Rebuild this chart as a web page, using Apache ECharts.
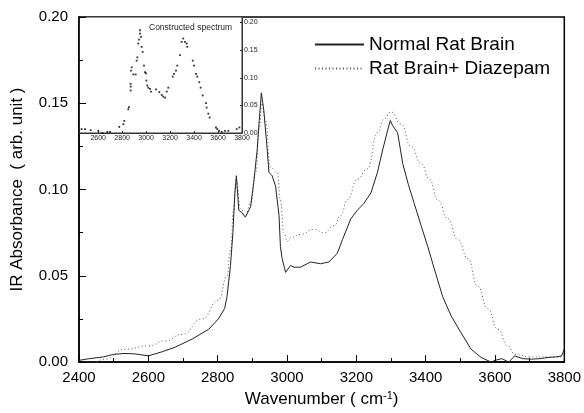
<!DOCTYPE html>
<html>
<head>
<meta charset="utf-8">
<script src="https://cdn.jsdelivr.net/npm/echarts@6/dist/echarts.min.js"></script>
<style>html,body{margin:0;padding:0;background:#fff;}#c{width:584px;height:413px;}</style>
</head>
<body>
<div id="c"></div>
<script>
// Main chart data: Normal Rat Brain (solid)
const normalX = [2400,2430,2470,2500,2530,2560,2600,2640,2678,2726,2774,2802,2820,2827,2837,2844,2849,2854,2861,2868,2880,2895,2904,2914,2920,2926,2933,2943,2948,2957,2967,2977,2981,2986,2996,3010,3020,3039,3068,3097,3121,3145,3160,3184,3203,3222,3242,3261,3276,3290,3298,3305,3319,3334,3350,3367,3387,3406,3425,3449,3473,3502,3531,3560,3589,3600,3620,3640,3657,3680,3705,3730,3753,3775,3792,3800];
const normalY = [0.001,0.002,0.003,0.0045,0.005,0.0048,0.0036,0.006,0.0087,0.0133,0.019,0.025,0.031,0.038,0.056,0.075,0.096,0.108,0.088,0.087,0.084,0.090,0.104,0.123,0.140,0.156,0.146,0.123,0.110,0.108,0.102,0.085,0.067,0.060,0.052,0.056,0.055,0.055,0.058,0.057,0.058,0.063,0.071,0.083,0.088,0.092,0.098,0.110,0.123,0.134,0.140,0.137,0.133,0.115,0.103,0.092,0.079,0.067,0.054,0.038,0.027,0.017,0.0075,0.0027,0.000,0.001,0.002,0.000,0.0036,0.002,0.0017,0.002,0.0027,0.003,0.0036,0.0075];
// Rat Brain + Diazepam (dotted)
const diazX = [2400,2440,2475,2533,2600,2649,2697,2755,2803,2827,2837,2846,2853,2866,2880,2895,2910,2920,2928,2938,2952,2972,2981,2991,3001,3010,3039,3078,3107,3136,3155,3174,3203,3232,3261,3280,3300,3329,3358,3387,3411,3435,3464,3493,3522,3550,3579,3608,3637,3657,3700,3750,3800];
const diazY = [0.000,0.000,0.0017,0.0075,0.0094,0.0123,0.016,0.025,0.036,0.050,0.065,0.088,0.106,0.089,0.085,0.092,0.110,0.135,0.150,0.140,0.113,0.110,0.094,0.075,0.070,0.072,0.074,0.077,0.075,0.079,0.085,0.094,0.106,0.112,0.133,0.141,0.145,0.138,0.125,0.115,0.106,0.094,0.083,0.071,0.060,0.044,0.031,0.019,0.0094,0.0046,0.003,0.003,0.003];
// Inset: constructed spectrum (dots)
const insetX = [2462,2490,2537,2601,2635,2676,2699,2776,2810,2818,2851,2857,2871,2871,2871,2874,2880,2893,2913,2921,2927,2935,2941,2949,2949,2957,2963,2971,2982,2991,2999,3002,3010,3018,3032,3041,3082,3110,3130,3143,3158,3172,3185,3222,3233,3249,3260,3283,3297,3310,3324,3339,3344,3389,3400,3416,3427,3444,3455,3472,3500,3505,3519,3530,3583,3594,3610,3631,3658,3686,3756,3778];
const insetY = [0.007,0.007,0.005,0.004,0.000,0.002,0.002,0.011,0.016,0.022,0.043,0.047,0.077,0.084,0.089,0.113,0.119,0.106,0.106,0.131,0.137,0.162,0.169,0.180,0.186,0.174,0.156,0.147,0.122,0.110,0.108,0.095,0.086,0.082,0.080,0.075,0.079,0.074,0.069,0.066,0.064,0.075,0.082,0.102,0.107,0.113,0.122,0.141,0.165,0.171,0.165,0.162,0.156,0.131,0.122,0.107,0.102,0.092,0.082,0.068,0.054,0.046,0.035,0.028,0.010,0.007,0.004,0.002,0.004,0.004,0.007,0.010];
const xTicks = [2400,2600,2800,3000,3200,3400,3600,3800];
const yTicks = [0,0.05,0.10,0.15,0.20];
const insetXTicks = [2600,2800,3000,3200,3400,3600,3800];
const insetYTicks = [0,0.05,0.10,0.15,0.20];

const zip = (a,b) => a.map((v,i)=>[v,b[i]]);
const FF = '"Liberation Sans", Arial, sans-serif';
const plain = v => String(Math.round(v));
const chart = echarts.init(document.getElementById('c'), null, {renderer:'canvas'});
chart.setOption({
  animation: false,
  backgroundColor: '#fff',
  textStyle: {fontFamily: FF},
  grid: [
    {left: 79, right: 19, top: 17, bottom: 50, show: true, borderColor: '#000', borderWidth: 1.5, backgroundColor: 'transparent'},
    {left: 79, top: 17, width: 163, height: 116, show: true, borderColor: '#333', borderWidth: 1, backgroundColor: '#fff'}
  ],
  legend: {
    left: 309, top: 30, orient: 'vertical', itemWidth: 49, itemHeight: 12, itemGap: 5,
    itemStyle: {opacity: 0},
    textStyle: {fontSize: 19, color: '#000', fontFamily: FF},
    data: ['Normal Rat Brain', 'Rat Brain+ Diazepam']
  },
  xAxis: [
    {type: 'value', gridIndex: 0, min: xTicks[0], max: xTicks[xTicks.length-1], interval: 200,
     name: 'Wavenumber ( cm{sup|-1})', nameLocation: 'middle', nameGap: 24,
     nameTextStyle: {fontSize: 17, color: '#000', fontFamily: FF, rich: {sup: {fontSize: 11, verticalAlign: 'top', padding: [0,0,8,0]}}},
     axisLine: {lineStyle: {color: '#000', width: 1.5}},
     axisTick: {inside: true, length: 7, lineStyle: {color: '#000'}},
     minorTick: {show: true, splitNumber: 2, length: 4, lineStyle: {color: '#000'}},
     splitLine: {show: false},
     axisLabel: {fontSize: 15, color: '#000', margin: 8, fontFamily: FF, formatter: plain}},
    {type: 'value', gridIndex: 1, min: 2440, max: 3800,
     axisLine: {lineStyle: {color: '#333', width: 1}},
     axisTick: {inside: true, length: 2, customValues: insetXTicks, lineStyle: {color: '#333'}},
     splitLine: {show: false},
     axisLabel: {fontSize: 7, color: '#222', margin: 2, customValues: insetXTicks, fontFamily: FF, formatter: plain}}
  ],
  yAxis: [
    {type: 'value', gridIndex: 0, min: yTicks[0], max: yTicks[yTicks.length-1], interval: 0.05,
     name: 'IR Absorbance  ( arb. unit )', nameLocation: 'middle', nameGap: 53,
     nameTextStyle: {fontSize: 17, color: '#000', fontFamily: FF},
     axisLine: {lineStyle: {color: '#000', width: 1.5}},
     axisTick: {inside: true, length: 7, lineStyle: {color: '#000'}},
     minorTick: {show: true, splitNumber: 2, length: 4, lineStyle: {color: '#000'}},
     splitLine: {show: false},
     axisLabel: {fontSize: 15, color: '#000', margin: 11, fontFamily: FF, formatter: v => v.toFixed(2)}},
    {type: 'value', gridIndex: 1, position: 'right', min: 0, max: 0.21,
     axisLine: {show: true, lineStyle: {color: '#333', width: 1}},
     axisTick: {show: true, inside: true, length: 2, customValues: insetYTicks, lineStyle: {color: '#333'}},
     splitLine: {show: false},
     axisLabel: {fontSize: 7, color: '#222', margin: 2, customValues: insetYTicks, fontFamily: FF, formatter: v => v.toFixed(2)}}
  ],
  series: [
    {name: 'Normal Rat Brain', type: 'line', xAxisIndex: 0, yAxisIndex: 0, data: zip(normalX, normalY),
     symbol: 'none', smooth: false, lineStyle: {color: '#222', width: 1}, itemStyle: {color: '#222'}, z: 3},
    {name: 'Rat Brain+ Diazepam', type: 'line', xAxisIndex: 0, yAxisIndex: 0, data: zip(diazX, diazY),
     symbol: 'none', smooth: true, smoothMonotone: 'x', lineStyle: {color: '#555', width: 1, type: [1, 2.5]}, itemStyle: {color: '#555'}, z: 2},
    {name: 'Constructed spectrum', type: 'scatter', xAxisIndex: 1, yAxisIndex: 1, data: zip(insetX, insetY),
     symbol: 'rect', symbolSize: 1.8, itemStyle: {color: '#000'}, z: 5}
  ],
  graphic: [
    {type: 'text', left: 149, top: 23, z: 10,
     style: {text: 'Constructed spectrum', fontSize: 8.5, fill: '#222', fontFamily: FF}}
  ]
});
</script>
</body>
</html>
